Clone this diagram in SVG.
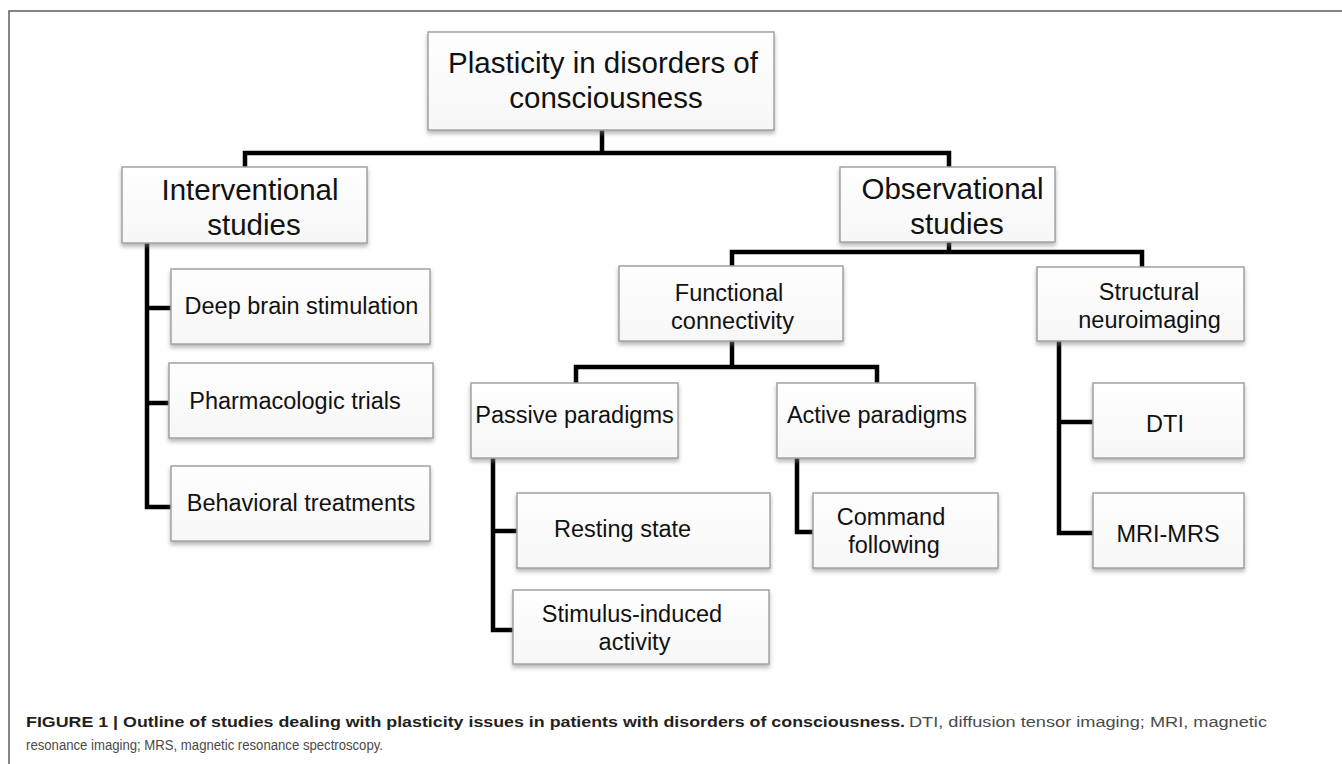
<svg xmlns="http://www.w3.org/2000/svg" width="1342" height="764" viewBox="0 0 1342 764">
<defs>
<linearGradient id="boxfill" x1="0" y1="0" x2="0" y2="1">
<stop offset="0" stop-color="#fefefe"/>
<stop offset="1" stop-color="#f7f7f7"/>
</linearGradient>
<filter id="sh" x="-10%" y="-10%" width="120%" height="130%">
<feDropShadow dx="0" dy="3" stdDeviation="2" flood-color="#7a7a7a" flood-opacity="0.55"/>
</filter>
<style>
.box{fill:url(#boxfill);stroke:#a3a3a3;stroke-width:1.5;filter:url(#sh);}
.t{font-family:"Liberation Sans",Arial,sans-serif;fill:#111;text-anchor:middle;}
.big{font-size:29.5px;}
.sm{font-size:23.5px;}
.conn{stroke:#000;stroke-width:4.5;fill:none;stroke-linejoin:miter;stroke-linecap:butt;}
.cap{font-family:"Liberation Sans",Arial,sans-serif;font-size:15.5px;}
.capb{font-weight:bold;fill:#231f20;}
.capr{fill:#4a4a4a;}
</style>
</defs>
<rect x="0" y="0" width="1342" height="764" fill="#fff"/>
<rect x="9" y="11" width="1400" height="800" fill="none" stroke="#444" stroke-width="1.3"/>

<g id="connectors">
<path class="conn" d="M602,130 V153"/>
<path class="conn" d="M245,167 V153 H949 V167"/>
<path class="conn" d="M147,243 V507 H171"/>
<path class="conn" d="M147,308 H171"/>
<path class="conn" d="M147,403 H169"/>
<path class="conn" d="M949,242 V252"/>
<path class="conn" d="M732,266 V252 H1142 V267"/>
<path class="conn" d="M732,341 V367"/>
<path class="conn" d="M576,383 V367 H877 V383"/>
<path class="conn" d="M493,458 V630 H513"/>
<path class="conn" d="M493,531 H517"/>
<path class="conn" d="M797,458 V532 H813"/>
<path class="conn" d="M1059,341 V533 H1093"/>
<path class="conn" d="M1059,422 H1093"/>
</g>

<g id="n-root">
<rect class="box" x="428" y="32" width="346" height="98"/>
<text class="t big" x="603" y="73">Plasticity in disorders of</text>
<text class="t big" x="606" y="108">consciousness</text>
</g>
<g id="n-interventional">
<rect class="box" x="122" y="167" width="245" height="76"/>
<text class="t big" x="250" y="200">Interventional</text>
<text class="t big" x="254" y="235">studies</text>
</g>
<g id="n-observational">
<rect class="box" x="840" y="167" width="215" height="75"/>
<text class="t big" x="952.5" y="199">Observational</text>
<text class="t big" x="957" y="234">studies</text>
</g>
<g id="n-dbs">
<rect class="box" x="171" y="269" width="259" height="75"/>
<text class="t sm" x="301.5" y="314">Deep brain stimulation</text>
</g>
<g id="n-pharma">
<rect class="box" x="169" y="363" width="264" height="75"/>
<text class="t sm" x="295" y="409">Pharmacologic trials</text>
</g>
<g id="n-behavioral">
<rect class="box" x="171" y="466" width="259" height="75"/>
<text class="t sm" x="301" y="511">Behavioral treatments</text>
</g>
<g id="n-functional">
<rect class="box" x="619" y="266" width="224" height="75"/>
<text class="t sm" x="729" y="301">Functional</text>
<text class="t sm" x="732.5" y="329">connectivity</text>
</g>
<g id="n-structural">
<rect class="box" x="1037" y="267" width="207" height="74"/>
<text class="t sm" x="1149" y="300">Structural</text>
<text class="t sm" x="1149.5" y="328">neuroimaging</text>
</g>
<g id="n-passive">
<rect class="box" x="471" y="383" width="207" height="75"/>
<text class="t sm" x="574.5" y="423">Passive paradigms</text>
</g>
<g id="n-active">
<rect class="box" x="777" y="383" width="198" height="75"/>
<text class="t sm" x="877" y="423">Active paradigms</text>
</g>
<g id="n-resting">
<rect class="box" x="517" y="493" width="253" height="75"/>
<text class="t sm" x="622.5" y="537">Resting state</text>
</g>
<g id="n-stimulus">
<rect class="box" x="513" y="590" width="256" height="74"/>
<text class="t sm" x="632" y="622">Stimulus-induced</text>
<text class="t sm" x="634.5" y="650">activity</text>
</g>
<g id="n-command">
<rect class="box" x="813" y="493" width="185" height="75"/>
<text class="t sm" x="891" y="525">Command</text>
<text class="t sm" x="894" y="553">following</text>
</g>
<g id="n-dti">
<rect class="box" x="1093" y="383" width="151" height="75"/>
<text class="t sm" x="1165" y="432">DTI</text>
</g>
<g id="n-mri">
<rect class="box" x="1093" y="493" width="151" height="75"/>
<text class="t sm" x="1168" y="542">MRI-MRS</text>
</g>

<g id="caption">
<text class="cap capb" x="26" y="727" textLength="879" lengthAdjust="spacingAndGlyphs">FIGURE 1 | Outline of studies dealing with plasticity issues in patients with disorders of consciousness.</text>
<text class="cap capr" x="909" y="727" textLength="358" lengthAdjust="spacingAndGlyphs">DTI, diffusion tensor imaging; MRI, magnetic</text>
<text class="cap capr" x="26" y="750" textLength="357" lengthAdjust="spacingAndGlyphs">resonance imaging; MRS, magnetic resonance spectroscopy.</text>
</g>
</svg>
